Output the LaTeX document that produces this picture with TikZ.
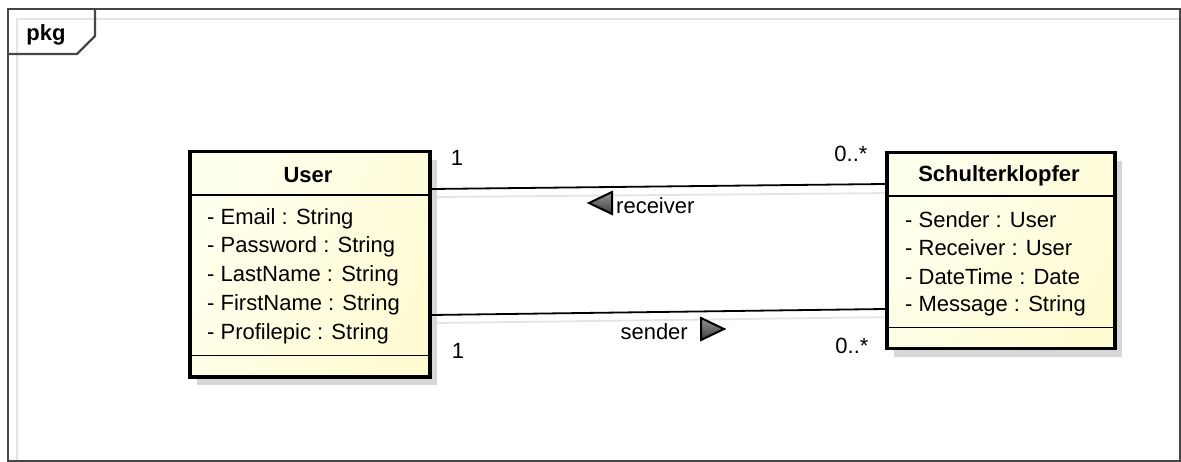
\documentclass[tikz,border=0pt]{standalone}
\usepackage{fontspec}
\setmainfont{Liberation Sans}
\usetikzlibrary{calc}
\definecolor{framegray}{RGB}{70,70,70}
\definecolor{innergray}{RGB}{228,228,228}
\definecolor{shadowgray}{RGB}{214,214,214}
\definecolor{creamA}{RGB}{255,255,238}
\definecolor{creamB}{RGB}{255,252,212}
\definecolor{tipA}{RGB}{150,150,150}
\definecolor{tipB}{RGB}{60,60,60}
\tikzset{
  classbox/.style={draw=black, line width=3.5pt, left color=creamA, right color=creamB,
    shading angle=60, rectangle, anchor=north west, inner sep=0pt},
  boxshadow/.style={fill=shadowgray, draw=none, rectangle, anchor=north west, inner sep=0pt},
  sep/.style={draw=black, line width=1.8pt},
  assoc/.style={draw=black, line width=1.8pt},
  assocshadow/.style={draw=innergray, line width=1.8pt},
  txt/.style={font=\fontsize{22}{26}\selectfont, inner sep=0pt},
  attr/.style={txt, anchor=west},
  title/.style={txt, font=\fontsize{22}{26}\selectfont\bfseries},
  navtip/.style={draw=black, top color=tipA, bottom color=tipB, line width=2pt, line join=miter},
}
\begin{document}
\begin{tikzpicture}[x=1pt, y=-1pt]
\useasboundingbox (0,0) rectangle (1181,462);
\fill[white] (0,0) rectangle (1181,462);

% package frame with its inner highlight lines
\draw[innergray, line width=2pt] (17,461) -- (17,19) -- (1180,19);
\draw[framegray, line width=2.2pt] (8,9) rectangle (1180,461);
\draw[framegray, line width=2.2pt] (95,9) -- (95,36) -- (77,54) -- (8,54);
\node[title] (pkg) at (46,35) {pkg};

% shadows of the association lines
\draw[assocshadow] (437,197) -- (893,193);
\draw[assocshadow] (437,323) -- (897,317);

% class boxes with drop shadows
\node[boxshadow, minimum width=240pt, minimum height=225pt] (usershadow) at (197,160) {};
\node[boxshadow, minimum width=228pt, minimum height=196pt] (skshadow) at (894,161) {};
\node[classbox, minimum width=240pt, minimum height=225pt] (user) at (188,150) {};
\node[classbox, minimum width=228pt, minimum height=196pt] (sk) at (885,151) {};

% compartment separators
\draw[sep] ([yshift=-45pt]user.north west) -- ([yshift=-45pt]user.north east);
\draw[sep] ([yshift=23pt]user.south west) -- ([yshift=23pt]user.south east);
\draw[sep] ([yshift=-45pt]sk.north west) -- ([yshift=-45pt]sk.north east);
\draw[sep] ([yshift=23pt]sk.south west) -- ([yshift=23pt]sk.south east);

% class names
\node[title] (usertitle) at (308,175) {User};
\node[title] (sktitle) at (999,176) {Schulterklopfer};

% attributes of User
\node[attr] (ua1) at (207,219) {- Email : String};
\node[attr] (ua2) at (207,247) {- Password : String};
\node[attr] (ua3) at (207,276) {- LastName : String};
\node[attr] (ua4) at (207,305) {- FirstName : String};
\node[attr] (ua5) at (207,334) {- Profilepic : String};

% attributes of Schulterklopfer
\node[attr] (sa1) at (905,220) {- Sender : User};
\node[attr] (sa2) at (905,248) {- Receiver : User};
\node[attr] (sa3) at (905,277) {- DateTime : Date};
\node[attr] (sa4) at (905,306) {- Message : String};

% associations
\draw[assoc] ([yshift=-39pt]user.north east) -- ([yshift=-33pt]sk.north west);
\draw[assoc] ([yshift=-165pt]user.north east) -- ([yshift=-158pt]sk.north west);

% multiplicities
\node[txt] (m1) at (457,158) {1};
\node[txt] (m2) at (851,154) {0..*};
\node[txt] (m3) at (458,351) {1};
\node[txt] (m4) at (852,346) {0..*};

% role names with navigation triangles
\coordinate (rtip) at (589,203);
\draw[navtip] (rtip) -- (612,192) -- (612,214) -- cycle;
\node[txt, anchor=west] (receiver) at (616,206) {receiver};
\coordinate (stip) at (724,329);
\draw[navtip] (stip) -- (701,318) -- (701,340) -- cycle;
\node[txt, anchor=east] (sender) at (688,332) {sender};
\end{tikzpicture}
\end{document}
